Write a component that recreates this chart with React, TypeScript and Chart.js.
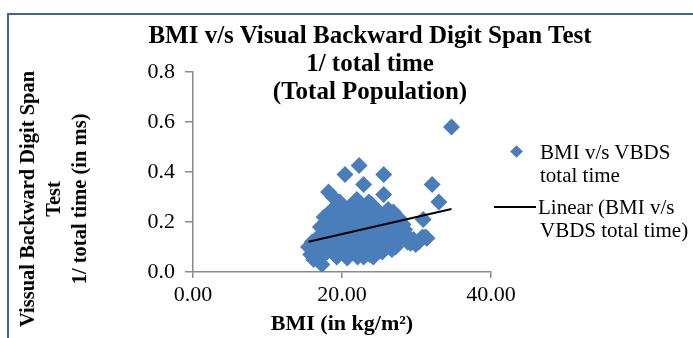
import React, { useEffect, useRef } from 'react';
import { Chart, registerables } from 'chart.js';

Chart.register(...registerables);

// ---- data ----
const bmiValues = [
  15.5, 15.8, 16.0, 16.2, 16.3, 16.5, 16.8, 17.0, 17.1, 17.2, 17.3, 17.5, 17.6, 17.8, 18.0, 18.0,
  18.2, 18.3, 18.5, 18.7, 18.8, 18.9, 19.0, 19.1, 19.2, 19.4, 19.5, 19.6, 19.7, 19.9, 20.0, 20.2,
  20.3, 20.4, 20.5, 20.7, 20.8, 20.9, 21.0, 21.1, 21.2, 21.3, 21.5, 21.7, 21.8, 21.9, 22.0, 22.2,
  22.3, 22.4, 22.5, 22.6, 22.7, 22.9, 22.9, 23.0, 23.2, 23.3, 23.4, 23.5, 23.6, 23.7, 23.8, 24.0,
  24.0, 24.2, 24.3, 24.5, 24.6, 24.7, 24.8, 24.9, 25.0, 25.2, 25.4, 25.4, 25.5, 25.6, 25.6, 25.8,
  26.0, 26.2, 26.2, 26.3, 26.4, 26.6, 26.7, 26.9, 27.0, 27.2, 27.3, 27.6, 27.8, 28.0, 28.4, 28.8,
  29.2, 29.6, 29.9, 30.3, 30.8, 30.9, 31.2, 31.4, 32.1, 33.0, 34.7,
  19.3, 20.0, 21.6, 22.1, 23.1, 24.4, 25.1, 26.5, 27.5, 28.2, 28.6, 29.0, 19.8, 21.4, 22.8, 23.9,
  24.1, 25.9, 18.4, 17.4, 16.6, 20.6, 22.0, 23.6, 27.1, 26.8,
];
const vbdsValues = [
  0.10, 0.07, 0.12, 0.05, 0.11, 0.09, 0.14, 0.11, 0.18, 0.13, 0.03, 0.07, 0.22, 0.16, 0.19, 0.08,
  0.32, 0.12, 0.09, 0.25, 0.30, 0.20, 0.14, 0.09, 0.18, 0.21, 0.11, 0.15, 0.28, 0.16, 0.23, 0.13,
  0.18, 0.39, 0.20, 0.056, 0.17, 0.07, 0.26, 0.10, 0.13, 0.22, 0.15, 0.28, 0.19, 0.21, 0.12, 0.24,
  0.426, 0.17, 0.19, 0.27, 0.08, 0.35, 0.06, 0.21, 0.14, 0.16, 0.25, 0.18, 0.10, 0.07, 0.22, 0.27,
  0.12, 0.06, 0.16, 0.13, 0.23, 0.20, 0.17, 0.09, 0.24, 0.15, 0.18, 0.08, 0.21, 0.39, 0.31, 0.12,
  0.22, 0.17, 0.25, 0.19, 0.10, 0.14, 0.09, 0.24, 0.19, 0.10, 0.12, 0.16, 0.21, 0.14, 0.17, 0.12,
  0.115, 0.13, 0.11, 0.12, 0.14, 0.21, 0.14, 0.135, 0.35, 0.28, 0.58,
  0.06, 0.09, 0.08, 0.06, 0.09, 0.08, 0.11, 0.12, 0.14, 0.19, 0.15, 0.13, 0.12, 0.18, 0.13, 0.19,
  0.24, 0.16, 0.15, 0.10, 0.06, 0.25, 0.29, 0.28, 0.22, 0.17,
];
const trendBmi = [15.5, 34.7];
const trendVbds = [0.121, 0.252];

const xTickValues = [0, 20, 40];
const yTickValues = [0, 0.2, 0.4, 0.6, 0.8];

const titleLines = ['BMI v/s Visual Backward Digit Span Test', '1/ total time', '(Total Population)'];
const yTitleLines = ['Vissual Backward Digit Span', 'Test', '1/ total time (in ms)'];
const xTitleText = 'BMI (in kg/m²)';
const seriesLegend = ['BMI v/s VBDS', 'total time'];
const trendLegend = ['Linear (BMI v/s', 'VBDS total time)'];

const BLUE = '#4a7ebb';
const AXIS = '#8a8a8a';
const FONT = "'Liberation Serif', 'Times New Roman', serif";

export default function App() {
  const canvasRef = useRef<HTMLCanvasElement | null>(null);

  useEffect(() => {
    document.body.style.margin = '0';
    const canvas = canvasRef.current;
    if (!canvas) return;
    const chart = new Chart(canvas, {
      type: 'scatter',
      data: {
        datasets: [
          {
            type: 'line',
            label: trendLegend.join(' '),
            data: trendBmi.map((x, i) => ({ x, y: trendVbds[i] })),
            borderColor: '#000000',
            borderWidth: 2,
            pointRadius: 0,
            showLine: true,
            fill: false,
            order: 0,
          } as any,
          {
            label: seriesLegend.join(' '),
            data: bmiValues.map((x, i) => ({ x, y: vbdsValues[i] })),
            pointStyle: 'rectRot',
            pointRadius: 8.5,
            backgroundColor: BLUE,
            borderColor: BLUE,
            borderWidth: 0,
            order: 1,
          },
        ],
      },
      options: {
        responsive: false,
        animation: false,
        events: [],
        layout: { padding: { left: 13, top: 72, right: 202, bottom: 0 } },
        plugins: {
          legend: { display: false },
          title: { display: false },
          tooltip: { enabled: false },
        },
        scales: {
          x: {
            type: 'linear',
            min: 0,
            max: 40,
            afterBuildTicks: (s: any) => {
              s.ticks = xTickValues.map((v) => ({ value: v }));
            },
            afterFit: (s: any) => {
              s.height = 66;
            },
            ticks: {
              callback: (v: any) => Number(v).toFixed(2),
              font: { family: FONT, size: 22 },
              color: '#000',
              padding: 4,
              maxRotation: 0,
            },
            grid: { drawOnChartArea: false, drawTicks: true, tickLength: 6, color: AXIS, lineWidth: 1.5 },
            border: { color: AXIS, width: 1.5 },
            title: {
              display: true,
              text: xTitleText,
              font: { family: FONT, size: 22, weight: 'bold', lineHeight: 1.2 },
              color: '#000',
              padding: { top: 0, bottom: 0 },
            },
          },
          y: {
            type: 'linear',
            min: 0,
            max: 0.8,
            afterBuildTicks: (s: any) => {
              s.ticks = yTickValues.map((v) => ({ value: v }));
            },
            afterFit: (s: any) => {
              s.width = 180;
            },
            ticks: {
              callback: (v: any) => Number(v).toFixed(1),
              font: { family: FONT, size: 22 },
              color: '#000',
              padding: 10,
            },
            grid: { drawOnChartArea: false, drawTicks: true, tickLength: 8, color: AXIS, lineWidth: 1.5 },
            border: { color: AXIS, width: 1.5 },
            title: { display: false },
          },
        },
      } as any,
    });
    return () => chart.destroy();
  }, []);

  const textStyle: React.CSSProperties = {
    position: 'absolute',
    fontFamily: FONT,
    color: '#000',
    whiteSpace: 'nowrap',
  };

  return (
    <div style={{ position: 'relative', width: 693, height: 338, overflow: 'hidden', background: '#fff' }}>
      <div
        style={{
          position: 'absolute',
          left: 7,
          top: 13,
          width: 700,
          height: 400,
          borderLeft: '2px solid #4262a8',
          borderTop: '2px solid #4262a8',
        }}
      />
      <canvas ref={canvasRef} width={693} height={338} style={{ position: 'absolute', left: 0, top: 0 }} />
      <div
        style={{
          ...textStyle,
          left: 370,
          top: 21,
          transform: 'translateX(-50%)',
          textAlign: 'center',
          fontWeight: 'bold',
          fontSize: 25,
          lineHeight: '28px',
        }}
      >
        {titleLines.map((t, i) => (
          <div key={i}>{t}</div>
        ))}
      </div>
      <div
        style={{
          ...textStyle,
          left: 53,
          top: 199,
          transform: 'translate(-50%, -50%) rotate(-90deg)',
          textAlign: 'center',
          fontWeight: 'bold',
          fontSize: 20.5,
          lineHeight: '26px',
        }}
      >
        {yTitleLines.map((t, i) => (
          <div key={i}>{t}</div>
        ))}
      </div>
      <div
        style={{
          position: 'absolute',
          left: 512,
          top: 147,
          width: 9,
          height: 9,
          background: BLUE,
          transform: 'rotate(45deg)',
        }}
      />
      <div style={{ ...textStyle, left: 540, top: 141, fontSize: 21, lineHeight: '23px' }}>
        {seriesLegend.map((t, i) => (
          <div key={i}>{t}</div>
        ))}
      </div>
      <div style={{ position: 'absolute', left: 494, top: 206, width: 42, height: 2, background: '#000' }} />
      <div style={{ ...textStyle, left: 538, top: 196, fontSize: 21, lineHeight: '23px' }}>
        {trendLegend.map((t, i) => (
          <div key={i} style={{ marginLeft: i === 0 ? 0 : 2 }}>{t}</div>
        ))}
      </div>
    </div>
  );
}
